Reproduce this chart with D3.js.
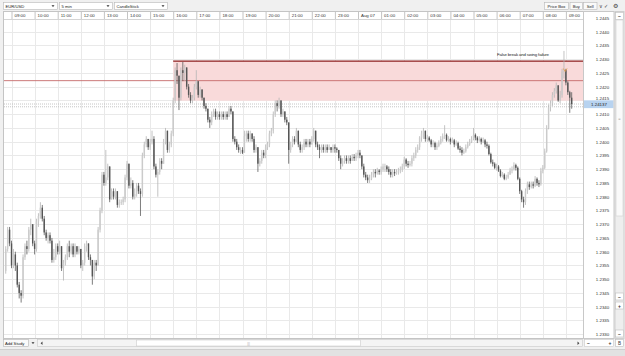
<!DOCTYPE html>
<html>
<head>
<meta charset="utf-8">
<script src="https://cdn.jsdelivr.net/npm/d3@7"></script>
<style>
  body { margin: 0; background: #f0f0f0; }
  svg text { font-family: "Liberation Sans", Arial, sans-serif; }
</style>
</head>
<body>
<div id="chart"></div>
<script>

// EUR/USD 5 min candles, 6 Aug 2014 08:45 -> 7 Aug 2014 09:15 (open = previous close)
const firstCandle = new Date(2014, 7, 6, 8, 45);
const firstOpen = 1.2353;

const closes = [
  1.2361, 1.2368, 1.2363,
  1.2355, 1.2359, 1.2355, 1.2348, 1.2345, 1.2344, 1.2358, 1.2362, 1.2361, 1.2368, 1.2370, 1.2363,
  1.2361, 1.2371, 1.2373, 1.2376, 1.2372, 1.2367, 1.2365, 1.2366, 1.2364, 1.2357, 1.2358, 1.2362,
  1.2360, 1.2362, 1.2354, 1.2356, 1.2358, 1.2362, 1.2360, 1.2362, 1.2359, 1.2362, 1.2360, 1.2361,
  1.2355, 1.2356, 1.2362, 1.2363, 1.2358, 1.2357, 1.2351, 1.2356, 1.2355, 1.2368, 1.2375, 1.2388,
  1.2385, 1.2387, 1.2391, 1.2379, 1.2382, 1.2380, 1.2382, 1.2377, 1.2378, 1.2378, 1.2379, 1.2387,
  1.2392, 1.2384, 1.2385, 1.2380, 1.2381, 1.2384, 1.2382, 1.2381, 1.2395, 1.2399, 1.2401, 1.2398,
  1.2400, 1.2401, 1.2391, 1.2388, 1.2389, 1.2393, 1.2392, 1.2400, 1.2404, 1.2397, 1.2399, 1.2403,
  1.2415, 1.2426, 1.2424, 1.2416, 1.2426, 1.2425, 1.2427, 1.2420, 1.2417, 1.2415, 1.2416, 1.2420,
  1.2422, 1.2417, 1.2419, 1.2416, 1.2413, 1.2412, 1.2408, 1.2407, 1.2410, 1.2411, 1.2409, 1.2410,
  1.2409, 1.2410, 1.2409, 1.2410, 1.2409, 1.2412, 1.2411, 1.2401, 1.2400, 1.2398, 1.2397, 1.2397,
  1.2396, 1.2402, 1.2403, 1.2401, 1.2403, 1.2401, 1.2397, 1.2398, 1.2392, 1.2393, 1.2396, 1.2395,
  1.2398, 1.2399, 1.2403, 1.2404, 1.2410, 1.2414, 1.2413, 1.2415, 1.2410, 1.2411, 1.2408, 1.2407,
  1.2397, 1.2399, 1.2401, 1.2400, 1.2404, 1.2399, 1.2397, 1.2398, 1.2400, 1.2399, 1.2400, 1.2399,
  1.2401, 1.2404, 1.2399, 1.2398, 1.2397, 1.2398, 1.2397, 1.2398, 1.2397, 1.2398, 1.2397, 1.2398,
  1.23975, 1.2397, 1.2394, 1.2392, 1.2393, 1.2394, 1.2393, 1.2394, 1.2393, 1.23945, 1.2394, 1.2395,
  1.2396, 1.2395, 1.2391, 1.2388, 1.2387, 1.2386, 1.23865, 1.2388, 1.2389, 1.23885, 1.23895, 1.2389,
  1.2390, 1.2391, 1.2391, 1.2390, 1.2389, 1.2388, 1.2389, 1.23885, 1.2389, 1.23895, 1.2390, 1.2391,
  1.23935, 1.2392, 1.23915, 1.2392, 1.2394, 1.2395, 1.2397, 1.2398, 1.24015, 1.2403, 1.2404, 1.2401,
  1.24015, 1.24005, 1.2399, 1.23995, 1.2398, 1.23985, 1.23995, 1.2401, 1.2402, 1.24025, 1.24005, 1.2401,
  1.2400, 1.24005, 1.2399, 1.23995, 1.23975, 1.2397, 1.2396, 1.23965, 1.2398, 1.2399, 1.2400, 1.2401,
  1.24025, 1.24015, 1.24005, 1.2401, 1.2400, 1.24005, 1.2399, 1.23985, 1.23955, 1.23925, 1.2392, 1.23905,
  1.2391, 1.23895, 1.23875, 1.2388, 1.23865, 1.2387, 1.2388, 1.23895, 1.2390, 1.23915, 1.23905, 1.23865,
  1.2382, 1.2379, 1.2378, 1.2382, 1.23845, 1.23835, 1.23845, 1.2384, 1.23865, 1.2385, 1.23845, 1.23895,
  1.23905, 1.23965, 1.2405, 1.24125, 1.2414, 1.2417, 1.24185, 1.24205, 1.2415, 1.2417, 1.24255, 1.2426,
  1.24215, 1.2418, 1.2416, 1.24137
];

const highs = [
  1.2362, 1.2369, 1.2369,
  1.2364, 1.2361, 1.2360, 1.2356, 1.2349, 1.2346, 1.2359, 1.2363, 1.2364, 1.2369, 1.2372, 1.2370,
  1.2364, 1.2372, 1.2374, 1.2378, 1.2377, 1.2373, 1.2368, 1.2367, 1.2367, 1.2365, 1.2361, 1.2363,
  1.2363, 1.2364, 1.2362, 1.2357, 1.2359, 1.2363, 1.2364, 1.2363, 1.2363, 1.2363, 1.2362, 1.2362,
  1.2361, 1.2357, 1.2363, 1.2364, 1.2363, 1.2359, 1.2357, 1.2357, 1.2357, 1.2369, 1.2376, 1.2389,
  1.2389, 1.2397, 1.2392, 1.2391, 1.2383, 1.2383, 1.2383, 1.2382, 1.2379, 1.2379, 1.2380, 1.2388,
  1.2393, 1.2392, 1.2387, 1.2386, 1.2383, 1.2385, 1.2385, 1.2383, 1.2396, 1.2400, 1.2402, 1.2401,
  1.2401, 1.2404, 1.2402, 1.2392, 1.2390, 1.2394, 1.2394, 1.2401, 1.2405, 1.2404, 1.2400, 1.2404,
  1.2416, 1.2427, 1.24286, 1.2424, 1.2427, 1.2429, 1.2428, 1.2427, 1.2421, 1.2418, 1.2417, 1.2421,
  1.2426, 1.2422, 1.2420, 1.2419, 1.2416, 1.2414, 1.2412, 1.2409, 1.2411, 1.2412, 1.2412, 1.2411,
  1.2411, 1.2411, 1.2411, 1.2411, 1.2411, 1.2413, 1.2413, 1.2411, 1.2402, 1.2401, 1.2399, 1.2398,
  1.2398, 1.2404, 1.2404, 1.2404, 1.2404, 1.2403, 1.2402, 1.2399, 1.2398, 1.2394, 1.2397, 1.2397,
  1.2399, 1.2400, 1.2404, 1.2405, 1.2411, 1.2415, 1.2415, 1.2416, 1.2415, 1.2412, 1.2411, 1.2409,
  1.2407, 1.2400, 1.2402, 1.2402, 1.2405, 1.2404, 1.2400, 1.2399, 1.2401, 1.2401, 1.2401, 1.2401,
  1.2402, 1.2405, 1.2404, 1.2400, 1.2399, 1.2399, 1.2399, 1.2399, 1.2399, 1.2399, 1.2398, 1.2399,
  1.2399, 1.2398, 1.2397, 1.2395, 1.2394, 1.2395, 1.2395, 1.2395, 1.2395, 1.23955, 1.23955, 1.2396,
  1.2397, 1.2397, 1.2395, 1.2392, 1.2389, 1.2388, 1.2388, 1.2389, 1.2390, 1.2390, 1.23905, 1.2390,
  1.2391, 1.2392, 1.2392, 1.23915, 1.2391, 1.2390, 1.2390, 1.2390, 1.2390, 1.23905, 1.2391, 1.2392,
  1.23945, 1.2394, 1.2393, 1.2393, 1.2395, 1.2396, 1.2398, 1.2399, 1.2402, 1.2404, 1.2405, 1.2404,
  1.24025, 1.2402, 1.2401, 1.24005, 1.2400, 1.23995, 1.24005, 1.2402, 1.2403, 1.2406, 1.2403, 1.2402,
  1.24015, 1.24015, 1.2401, 1.24005, 1.2400, 1.23985, 1.2398, 1.23975, 1.2399, 1.2400, 1.2401, 1.2402,
  1.2405, 1.2403, 1.2402, 1.2402, 1.24015, 1.24015, 1.2401, 1.2400, 1.2399, 1.2396, 1.23935, 1.23925,
  1.2392, 1.23915, 1.2390, 1.2389, 1.23885, 1.2388, 1.2389, 1.23905, 1.2391, 1.23925, 1.2392, 1.2391,
  1.2387, 1.23825, 1.2380, 1.2383, 1.23855, 1.23855, 1.23855, 1.23855, 1.23875, 1.2387, 1.2386, 1.23905,
  1.23915, 1.23975, 1.2406, 1.24135, 1.2415, 1.2418, 1.24195, 1.24215, 1.24205, 1.24185, 1.24265, 1.2433,
  1.24265, 1.2422, 1.24185, 1.2418
];

const lows = [
  1.2352, 1.2360, 1.2362,
  1.2354, 1.2354, 1.2353, 1.2347, 1.2343, 1.23415, 1.2343, 1.2357, 1.2359, 1.2360, 1.2366, 1.2362,
  1.2359, 1.2360, 1.2369, 1.2372, 1.2371, 1.2366, 1.2364, 1.2363, 1.2363, 1.2356, 1.2356, 1.2357,
  1.2359, 1.2359, 1.2353, 1.23495, 1.2355, 1.2357, 1.2358, 1.2359, 1.2358, 1.2358, 1.2359, 1.2359,
  1.2354, 1.2353, 1.2355, 1.2360, 1.2357, 1.2355, 1.2348, 1.2350, 1.2353, 1.2355, 1.2367, 1.2374,
  1.2384, 1.2384, 1.2386, 1.2378, 1.2379, 1.2379, 1.2379, 1.2376, 1.2376, 1.2377, 1.2377, 1.2378,
  1.2386, 1.2383, 1.2383, 1.2379, 1.2379, 1.2380, 1.2381, 1.2373, 1.2380, 1.2394, 1.2398, 1.2397,
  1.2397, 1.2399, 1.2390, 1.2387, 1.2380, 1.2388, 1.2390, 1.2392, 1.2399, 1.2396, 1.2396, 1.2398,
  1.2402, 1.2414, 1.2421, 1.24115, 1.2415, 1.2422, 1.2422, 1.2419, 1.2416, 1.2414, 1.2414, 1.2415,
  1.2419, 1.2416, 1.2416, 1.2415, 1.2412, 1.2411, 1.2407, 1.2405, 1.2406, 1.2409, 1.2408, 1.2408,
  1.2408, 1.2408, 1.2408, 1.2408, 1.2408, 1.2409, 1.2410, 1.2400, 1.2399, 1.2397, 1.2396, 1.23955,
  1.23955, 1.2396, 1.2400, 1.2400, 1.2400, 1.2400, 1.2396, 1.2396, 1.2389, 1.2391, 1.2392, 1.2394,
  1.2394, 1.2397, 1.2398, 1.2402, 1.2403, 1.2409, 1.2411, 1.2412, 1.2409, 1.2409, 1.2407, 1.2406,
  1.2392, 1.2396, 1.2398, 1.2399, 1.2400, 1.2398, 1.2396, 1.2396, 1.2397, 1.2398, 1.2398, 1.2398,
  1.2399, 1.2400, 1.2398, 1.2397, 1.2394, 1.2396, 1.2396, 1.2396, 1.2396, 1.2397, 1.2396, 1.2396,
  1.2396, 1.2396, 1.2393, 1.2390, 1.2391, 1.2392, 1.2392, 1.2392, 1.2392, 1.2393, 1.2393, 1.2393,
  1.2394, 1.2394, 1.2390, 1.2387, 1.2386, 1.2385, 1.2385, 1.2386, 1.2387, 1.2387, 1.2388, 1.2388,
  1.2388, 1.2389, 1.2389, 1.2389, 1.2388, 1.2387, 1.2387, 1.23875, 1.2388, 1.2388, 1.23885, 1.2389,
  1.2390, 1.2391, 1.23905, 1.2391, 1.2391, 1.2393, 1.2394, 1.2396, 1.2397, 1.2400, 1.2401, 1.2400,
  1.2400, 1.2400, 1.2398, 1.2398, 1.2397, 1.2397, 1.2398, 1.2399, 1.2400, 1.2401, 1.2400, 1.2400,
  1.2399, 1.23995, 1.2398, 1.23985, 1.2397, 1.2396, 1.2395, 1.23955, 1.2396, 1.23975, 1.23985, 1.23995,
  1.24005, 1.24005, 1.23995, 1.2400, 1.2399, 1.23995, 1.2398, 1.23975, 1.2395, 1.2392, 1.2391, 1.2390,
  1.23895, 1.2389, 1.2387, 1.2387, 1.2386, 1.2386, 1.23865, 1.2388, 1.23885, 1.23895, 1.23895, 1.2386,
  1.2381, 1.2378, 1.2376, 1.2377, 1.2381, 1.23825, 1.2383, 1.2383, 1.23835, 1.2384, 1.23835, 1.2384,
  1.23885, 1.2390, 1.2396, 1.24045, 1.2411, 1.2413, 1.2416, 1.24175, 1.24145, 1.2414, 1.2416, 1.2423,
  1.24205, 1.2417, 1.24105, 1.2412
];

// axis labels
const timeLabels = ["09:00", "10:00", "11:00", "12:00", "13:00", "14:00", "15:00", "16:00", "17:00",
  "18:00", "19:00", "20:00", "21:00", "22:00", "23:00", "Aug 07", "01:00", "02:00", "03:00",
  "04:00", "05:00", "06:00", "07:00", "08:00", "09:00"];
const priceTicks = [1.2330, 1.2335, 1.2340, 1.2345, 1.2350, 1.2355, 1.2360, 1.2365, 1.2370, 1.2375,
  1.2380, 1.2385, 1.2390, 1.2395, 1.2400, 1.2405, 1.2410, 1.2415, 1.2420, 1.2425, 1.2430, 1.2435,
  1.2440, 1.2445];

// price box drawn on the chart + current bid/ask
const boxStart = new Date(2014, 7, 6, 16, 0);
const boxTop = 1.24293;
const boxMid = 1.24222;
const boxBottom = 1.24149;
const lastPrice = 1.24137;
const quoteLines = [1.24137, 1.24127];
const note = "False break and swing failure";

const w = 625;
const h = 356;
const pLeft = 4, pRight = 583, pTop = 20, pBottom = 338;
const fontSize = 4.4;

const svg = d3.select('#chart')
    .append('svg')
    .attr('width', w)
    .attr('height', h)
    .style('display', 'block');

const xScale = d3.scaleTime()
    .domain([new Date(2014, 7, 6, 9, 0), new Date(2014, 7, 7, 9, 0)])
    .range([11.5, 565.9]);

const yScale = d3.scaleLinear()
    .domain([1.2330, 1.2440])
    .range([334.2, 31.7]);

const candles = closes.map((c, i) => ({
    t: d3.timeMinute.offset(firstCandle, 5 * i),
    o: i === 0 ? firstOpen : closes[i - 1],
    c: c,
    hi: highs[i],
    lo: lows[i]
}));

const defs = svg.append('defs');
defs.append('clipPath').attr('id', 'plotClip')
    .append('rect').attr('x', pLeft).attr('y', pTop).attr('width', pRight - pLeft).attr('height', pBottom - pTop);
defs.append('clipPath').attr('id', 'axisClip')
    .append('rect').attr('x', pRight).attr('y', 11).attr('width', 31).attr('height', pBottom - 11);

// backgrounds
svg.append('rect').attr('width', w).attr('height', h).attr('fill', '#f0f0f0');
svg.append('rect').attr('x', pLeft).attr('y', 11).attr('width', pRight - pLeft).attr('height', pBottom - 11)
    .attr('fill', '#ffffff');
svg.append('rect').attr('x', pRight).attr('y', 11).attr('width', 31).attr('height', pBottom - 11)
    .attr('fill', '#ffffff');

const plot = svg.append('g').attr('clip-path', 'url(#plotClip)');

// grid
const hourTicks = d3.timeHour.range(new Date(2014, 7, 6, 9, 0), new Date(2014, 7, 7, 9, 1));

plot.selectAll('.hgrid')
    .data(priceTicks)
    .enter()
    .append('line')
    .attr('x1', pLeft).attr('x2', pRight)
    .attr('y1', (d) => Math.round(yScale(d)) + 0.5)
    .attr('y2', (d) => Math.round(yScale(d)) + 0.5)
    .attr('stroke', '#e9e9e9');

plot.selectAll('.vgrid')
    .data(hourTicks)
    .enter()
    .append('line')
    .attr('x1', (d) => Math.round(xScale(d)) + 0.5)
    .attr('x2', (d) => Math.round(xScale(d)) + 0.5)
    .attr('y1', pTop).attr('y2', pBottom)
    .attr('stroke', '#e9e9e9');

// price box
plot.append('rect')
    .attr('x', xScale(boxStart))
    .attr('y', yScale(boxTop))
    .attr('width', pRight - xScale(boxStart))
    .attr('height', yScale(boxBottom) - yScale(boxTop))
    .attr('fill', '#f9dada');

plot.append('line')
    .attr('x1', pLeft).attr('x2', pRight)
    .attr('y1', yScale(boxMid)).attr('y2', yScale(boxMid))
    .attr('stroke', '#c56b6b').attr('stroke-width', 0.9);

plot.append('line')
    .attr('x1', xScale(boxStart)).attr('x2', pRight)
    .attr('y1', yScale(boxTop)).attr('y2', yScale(boxTop))
    .attr('stroke', '#8c1c1c').attr('stroke-width', 1.3);

// bid / ask dotted lines
plot.selectAll('.quote')
    .data(quoteLines)
    .enter()
    .append('line')
    .attr('x1', pLeft).attr('x2', pRight)
    .attr('y1', (d) => yScale(d)).attr('y2', (d) => yScale(d))
    .attr('stroke', '#b8b8b8').attr('stroke-width', 0.8)
    .attr('stroke-dasharray', '1,1');

// candles
const candle = plot.selectAll('.candle')
    .data(candles)
    .enter()
    .append('g')
    .attr('class', 'candle');

candle.append('line')
    .attr('x1', (d) => xScale(d.t)).attr('x2', (d) => xScale(d.t))
    .attr('y1', (d) => yScale(Math.max(d.hi, d.o, d.c)))
    .attr('y2', (d) => yScale(Math.min(d.lo, d.o, d.c)))
    .attr('stroke', (d) => d.c >= d.o ? '#b4b4b4' : '#5c5c5c')
    .attr('stroke-width', 0.8);

candle.append('rect')
    .attr('x', (d) => xScale(d.t) - 0.7)
    .attr('width', 1.4)
    .attr('y', (d) => yScale(Math.max(d.o, d.c)))
    .attr('height', (d) => Math.max(0.6, Math.abs(yScale(d.o) - yScale(d.c))))
    .attr('fill', (d) => d.c >= d.o ? '#cbcbcb' : '#555555');

// note and marker
plot.append('text')
    .attr('x', 497)
    .attr('y', 55.5)
    .attr('font-size', 4.3)
    .attr('fill', '#222')
    .attr('textLength', 52)
    .text(note);

plot.append('path')
    .attr('d', 'M563.3,68.5 L565.2,71.5 L567.1,68.5')
    .attr('fill', 'none')
    .attr('stroke', '#e89a45')
    .attr('stroke-width', 0.8);

// time axis (labels sit right of each hour mark)
const xAxis = d3.axisBottom(xScale)
    .tickValues(hourTicks)
    .tickFormat((d, i) => timeLabels[i])
    .tickSize(pTop - 11);

const gx = svg.append('g')
    .attr('transform', 'translate(0,11)')
    .call(xAxis);
gx.select('.domain').remove();
gx.selectAll('.tick line').attr('stroke', '#c4c4c4');
gx.selectAll('.tick text')
    .attr('text-anchor', 'start')
    .attr('x', 2.5)
    .attr('y', 6.2)
    .attr('dy', null)
    .attr('font-size', fontSize)
    .attr('fill', '#333');

svg.append('line').attr('x1', pLeft).attr('x2', pRight).attr('y1', pTop - 0.5).attr('y2', pTop - 0.5).attr('stroke', '#d4d4d4');

// price axis
const yAxis = d3.axisRight(yScale)
    .tickValues(priceTicks)
    .tickFormat(d3.format('.4f'))
    .tickSize(0)
    .tickPadding(0);

const gy = svg.append('g')
    .attr('clip-path', 'url(#axisClip)')
    .append('g')
    .attr('transform', 'translate(602.5,0)')
    .call(yAxis);
gy.select('.domain').remove();
// labels next to the last-price tag are nudged away from it
gy.selectAll('.tick text')
    .attr('text-anchor', 'middle')
    .attr('x', 0)
    .attr('y', (d) => {
        const gap = yScale(d) - yScale(lastPrice);
        if (Math.abs(gap) >= 8) return 0;
        return gap < 0 ? -2.6 : 2.6;
    })
    .attr('dy', '0.35em')
    .attr('font-size', fontSize)
    .attr('fill', '#333');

svg.append('rect')
    .attr('x', pRight + 1).attr('y', yScale(lastPrice) - 3.7)
    .attr('width', 29.5).attr('height', 7.8)
    .attr('fill', '#b8d3f0');
svg.append('text')
    .attr('x', 599).attr('y', yScale(lastPrice) + 1.8)
    .attr('text-anchor', 'middle')
    .attr('font-size', fontSize)
    .attr('fill', '#222')
    .text(lastPrice.toFixed(5));

// frame lines
svg.append('rect').attr('x', pLeft - 0.5).attr('y', 11.5).attr('width', pRight - pLeft + 1).attr('height', pBottom - 11)
    .attr('fill', 'none').attr('stroke', '#c4c4c4');
svg.append('rect').attr('x', pRight + 0.5).attr('y', 11.5).attr('width', 30.5).attr('height', pBottom - 11)
    .attr('fill', 'none').attr('stroke', '#c8c8c8');

// right scroll column
svg.append('rect').attr('x', 615).attr('y', 11.5).attr('width', 9).attr('height', pBottom - 11)
    .attr('fill', '#eeeeee').attr('stroke', '#cfcfcf');
svg.append('rect').attr('x', 616).attr('y', 20).attr('width', 7).attr('height', 196)
    .attr('fill', '#fafafa').attr('stroke', '#d0d0d0').attr('stroke-width', 0.6);
svg.append('text').attr('x', 619.5).attr('y', 119.5).attr('text-anchor', 'middle')
    .attr('font-size', 4).attr('fill', '#999').text('=');

const sideButtons = [{ y: 12.5, s: '\u2212' }, { y: 293, s: '\u2212' }, { y: 302, s: '+' }, { y: 330, s: '\u2212' }];
svg.selectAll('.sidebtn')
    .data(sideButtons)
    .enter()
    .append('rect')
    .attr('x', 615.5).attr('y', (d) => d.y).attr('width', 8).attr('height', 7)
    .attr('fill', '#ffffff').attr('stroke', '#bdbdbd').attr('stroke-width', 0.6);
svg.selectAll('.sidetxt')
    .data(sideButtons)
    .enter()
    .append('text')
    .attr('x', 619.5).attr('y', (d) => d.y + 5.5).attr('text-anchor', 'middle')
    .attr('font-size', 5).attr('font-weight', 'bold').attr('fill', '#333')
    .text((d) => d.s);

// top toolbar
const dropdowns = [
    { x: 3, w: 54, label: 'EUR/USD' },
    { x: 59, w: 53, label: '5 min' },
    { x: 114, w: 53, label: 'CandleStick' }
];
const dd = svg.selectAll('.dropdown')
    .data(dropdowns)
    .enter()
    .append('g');
dd.append('rect')
    .attr('x', (d) => d.x + 0.5).attr('y', 2.5).attr('width', (d) => d.w).attr('height', 7)
    .attr('fill', '#ffffff').attr('stroke', '#b8b8b8').attr('stroke-width', 0.6);
dd.append('text')
    .attr('x', (d) => d.x + 2.5).attr('y', 7.6)
    .attr('font-size', 4.2).attr('fill', '#222')
    .text((d) => d.label);
dd.append('path')
    .attr('d', (d) => 'M' + (d.x + d.w - 5.5) + ',5.2 h3 l-1.5,1.8 z')
    .attr('fill', '#333');

const buttons = [
    { x: 544, w: 24, label: 'Price Box' },
    { x: 569.5, w: 12.5, label: 'Buy' },
    { x: 583, w: 13.5, label: 'Sell' }
];
const bt = svg.selectAll('.button')
    .data(buttons)
    .enter()
    .append('g');
bt.append('rect')
    .attr('x', (d) => d.x + 0.5).attr('y', 2.5).attr('width', (d) => d.w).attr('height', 7)
    .attr('fill', '#fafafa').attr('stroke', '#b8b8b8').attr('stroke-width', 0.6);
bt.append('text')
    .attr('x', (d) => d.x + 0.5 + d.w / 2).attr('y', 7.6)
    .attr('text-anchor', 'middle')
    .attr('font-size', 4.2).attr('fill', '#222')
    .text((d) => d.label);

svg.append('text').attr('x', 598.5).attr('y', 7.8).attr('font-size', 4.6).attr('fill', '#444').text('\u2228');
svg.append('text').attr('x', 603.5).attr('y', 7.8).attr('font-size', 4.6).attr('fill', '#444').text('\u2713');
svg.append('text').attr('x', 613).attr('y', 8.2).attr('font-size', 6).attr('fill', '#444')
    .style('font-family', '"DejaVu Sans"').text('\u2699');

// bottom bar
svg.append('rect').attr('x', 3.5).attr('y', 339.5).attr('width', 25).attr('height', 7)
    .attr('fill', '#fafafa').attr('stroke', '#b5b5b5').attr('stroke-width', 0.6);
svg.append('text').attr('x', 5).attr('y', 344.6).attr('font-size', 4.2).attr('fill', '#222').text('Add Study');
svg.append('path').attr('d', 'M31.5,342.3 h3 l-1.5,1.8 z').attr('fill', '#333');

svg.append('rect').attr('x', 37.5).attr('y', 339.5).attr('width', 545).attr('height', 7)
    .attr('fill', '#f4f4f4').attr('stroke', '#c8c8c8').attr('stroke-width', 0.6);
svg.append('rect').attr('x', 136.5).attr('y', 340).attr('width', 224).attr('height', 6)
    .attr('fill', '#ffffff').attr('stroke', '#cccccc').attr('stroke-width', 0.6);
svg.append('text').attr('x', 248.5).attr('y', 344.6).attr('text-anchor', 'middle')
    .attr('font-size', 3.5).attr('fill', '#aaa').text('|||');
svg.append('path').attr('d', 'M42.5,341.4 v3.6 l-1.9,-1.8 z').attr('fill', '#444');
svg.append('path').attr('d', 'M577.5,341.4 v3.6 l1.9,-1.8 z').attr('fill', '#444');

svg.append('rect').attr('x', 584.5).attr('y', 339.5).attr('width', 29).attr('height', 7)
    .attr('fill', '#ffffff').attr('stroke', '#c8c8c8').attr('stroke-width', 0.6);
svg.append('text').attr('x', 587).attr('y', 345).attr('font-size', 5).attr('font-weight', 'bold').attr('fill', '#333').text('\u2212');
svg.append('text').attr('x', 608.5).attr('y', 345).attr('font-size', 5).attr('font-weight', 'bold').attr('fill', '#333').text('+');
svg.append('rect').attr('x', 615.5).attr('y', 339.5).attr('width', 8).attr('height', 7)
    .attr('fill', '#ffffff').attr('stroke', '#bdbdbd').attr('stroke-width', 0.6);
svg.append('text').attr('x', 619.5).attr('y', 345).attr('text-anchor', 'middle')
    .attr('font-size', 4.5).attr('fill', '#333').text('B');

svg.append('rect').attr('x', 0).attr('y', 349).attr('width', w).attr('height', 7).attr('fill', '#e2e2e2');
svg.append('line').attr('x1', 0).attr('x2', w).attr('y1', 349.5).attr('y2', 349.5).attr('stroke', '#cfcfcf');

</script>
</body>
</html>
